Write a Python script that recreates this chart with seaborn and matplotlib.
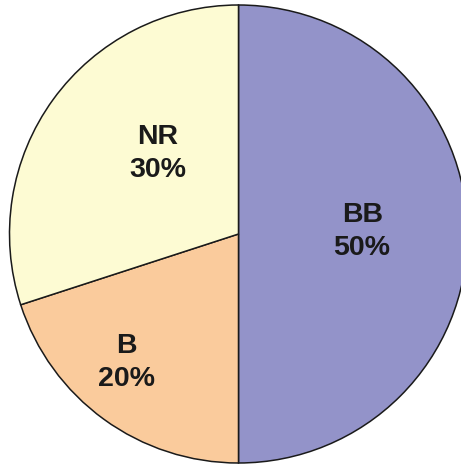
import numpy as np
import matplotlib
matplotlib.use("Agg")
import matplotlib.pyplot as plt
import seaborn as sns

categories = ["BB", "B", "NR"]
values = [50, 20, 30]
colors = ["#9393C9", "#FACB9C", "#FDFBD3"]

# label placement style (radial distance, angle offset in degrees)
label_r = [0.54, 0.745, 0.50]
label_dang = [1.0, -5.0, -9.0]

sns.set_theme(style="white")
plt.rcParams['font.family'] = ['Liberation Sans', 'DejaVu Sans']

W, H = 461, 465
fig = plt.figure(figsize=(W / 100, H / 100), dpi=100)
cx, cy, r = 238.5, 234, 229
ax = fig.add_axes([(cx - r) / W, (H - cy - r) / H, 2 * r / W, 2 * r / H])

wedges, _ = ax.pie(values, colors=colors, startangle=90, counterclock=False,
                   wedgeprops=dict(edgecolor="#1a1a1a", linewidth=1.1))
ax.set_xlim(-1, 1)
ax.set_ylim(-1, 1)
ax.set_aspect("auto")
ax.axis("off")

total = sum(values)
for w, cat, v, lr, da in zip(wedges, categories, values, label_r, label_dang):
    mid = np.deg2rad((w.theta1 + w.theta2) / 2 + da)
    ax.text(lr * np.cos(mid), lr * np.sin(mid), f"{cat}\n{round(100 * v / total)}%",
            ha="center", va="center", fontsize=20.5, fontweight="bold",
            color="#1a1a1a", linespacing=1.35)

fig.savefig("out.png", dpi=100, facecolor="white")
